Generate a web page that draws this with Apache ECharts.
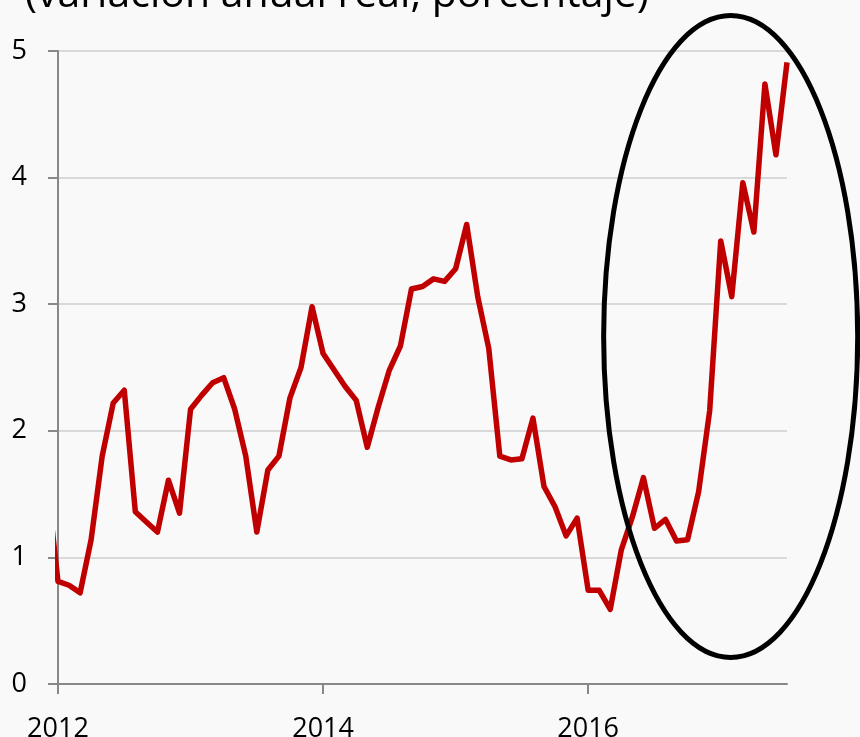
<!DOCTYPE html>
<html>
<head>
<meta charset="utf-8">
<script src="https://cdn.jsdelivr.net/npm/echarts@6/dist/echarts.min.js"></script>
<style>
  html, body { margin: 0; padding: 0; background: #f9f9f9; }
  #main { width: 860px; height: 737px; }
</style>
</head>
<body>
<div id="main"></div>
<script>
// variación anual real, mensual; el primer valor es dic-2011 (queda recortado por el eje)
var primerMes = -1;
var variacion = [
  1.60,
  0.81, 0.78, 0.72, 1.14, 1.80, 2.22, 2.32, 1.36, 1.28, 1.20, 1.61, 1.35,
  2.17, 2.28, 2.38, 2.42, 2.17, 1.80, 1.20, 1.69, 1.80, 2.26, 2.50, 2.98,
  2.61, 2.48, 2.35, 2.24, 1.87, 2.19, 2.48, 2.67, 3.12, 3.14, 3.20, 3.18,
  3.28, 3.63, 3.06, 2.65, 1.80, 1.77, 1.78, 2.10, 1.56, 1.40, 1.17, 1.31,
  0.74, 0.74, 0.59, 1.06, 1.32, 1.63, 1.23, 1.30, 1.13, 1.14, 1.52, 2.16,
  3.50, 3.06, 3.96, 3.57, 4.74, 4.18, 4.91
];
var anioBase = 2012;
var mesesTicks = [0, 24, 48];          // 2012, 2014, 2016
var yTicks = [0, 1, 2, 3, 4, 5];
var titulo = '(variación anual real, porcentaje)';

// elipse que resalta el último tramo (en unidades de datos: meses / porcentaje)
var elipseCentro = [60.9, 2.745];
var elipseRadio = [11.5, 2.535];

var fuente = '"Open Sans", "Noto Sans", sans-serif';

var serie = variacion.map(function (v, i) {
  return [primerMes + i, v];
});

var dom = document.getElementById('main');
var chart = echarts.init(dom, null, { renderer: 'canvas' });

var option = {
  backgroundColor: '#f9f9f9',
  animation: false,
  title: {
    text: titulo,
    left: 20,
    top: -30,
    textStyle: {
      fontFamily: fuente,
      fontSize: 41,
      fontWeight: 'normal',
      color: '#000'
    }
  },
  grid: {
    left: 58,
    right: 73,
    top: 51,
    bottom: 53,
    outerBoundsMode: 'none'
  },
  xAxis: {
    type: 'value',
    min: 0,
    max: 66,
    splitLine: { show: false },
    axisLine: { onZero: false, lineStyle: { color: '#888', width: 2 } },
    axisTick: {
      length: 10,
      customValues: mesesTicks,
      lineStyle: { color: '#888', width: 2 }
    },
    axisLabel: {
      customValues: mesesTicks,
      margin: 32,
      color: '#000',
      fontFamily: fuente,
      fontSize: 27,
      formatter: function (v) { return String(anioBase + v / 12); }
    }
  },
  yAxis: {
    type: 'value',
    min: yTicks[0],
    max: yTicks[yTicks.length - 1],
    interval: 1,
    axisLine: { show: true, lineStyle: { color: '#888', width: 2 } },
    axisTick: { show: true, length: 10, lineStyle: { color: '#888', width: 2 } },
    splitLine: { lineStyle: { color: '#d9d9d9', width: 2 } },
    axisLabel: {
      margin: 31,
      color: '#000',
      fontFamily: fuente,
      fontSize: 27
    }
  },
  series: [
    {
      type: 'line',
      data: serie,
      showSymbol: false,
      clip: true,
      lineStyle: { color: '#c00000', width: 5.5, join: 'round' }
    }
  ]
};

chart.setOption(option);

// elipse dibujada a partir de coordenadas de datos
var c = chart.convertToPixel({ gridIndex: 0 }, elipseCentro);
var e = chart.convertToPixel({ gridIndex: 0 }, [elipseCentro[0] + elipseRadio[0], elipseCentro[1] + elipseRadio[1]]);
chart.setOption({
  graphic: [
    {
      type: 'ellipse',
      z: 100,
      shape: { cx: c[0], cy: c[1], rx: Math.abs(e[0] - c[0]), ry: Math.abs(c[1] - e[1]) },
      style: { fill: 'none', stroke: '#000', lineWidth: 5 }
    }
  ]
});

window.addEventListener('resize', chart.resize);
</script>
</body>
</html>
